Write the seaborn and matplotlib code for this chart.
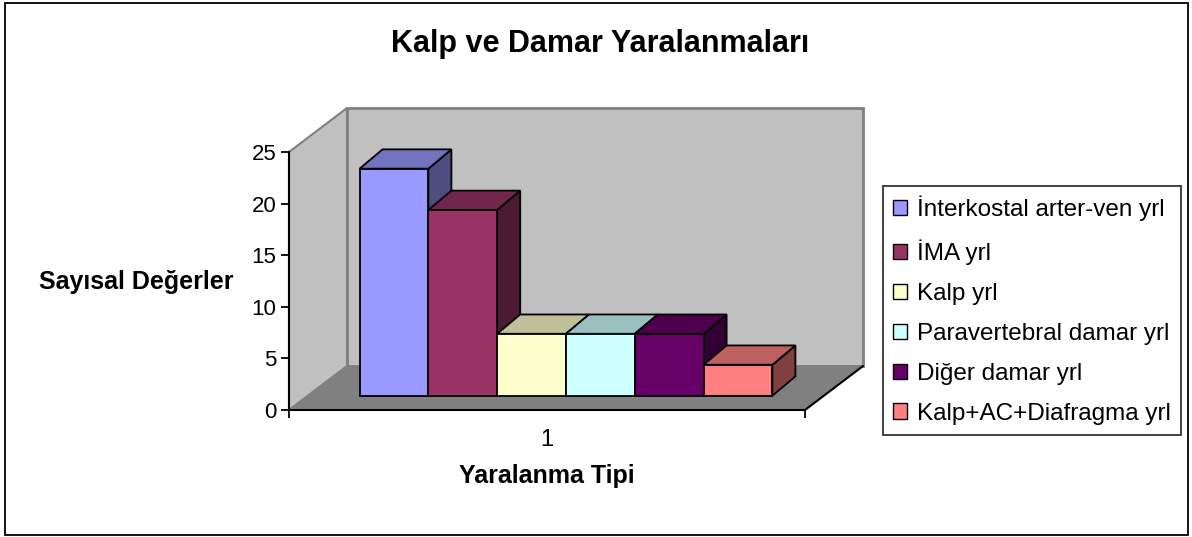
import pandas as pd
import seaborn as sns
import matplotlib.pyplot as plt
from matplotlib.patches import Polygon, Rectangle, Patch
from matplotlib.colors import to_rgb

# data
tipler = ["İnterkostal arter-ven yrl", "İMA yrl", "Kalp yrl",
          "Paravertebral damar yrl", "Diğer damar yrl", "Kalp+AC+Diafragma yrl"]
degerler = [22, 18, 6, 6, 6, 3]
grup = ["1"] * len(tipler)
renkler = ["#9999FF", "#993366", "#FFFFCC", "#CCFFFF", "#660066", "#FF8080"]

df = pd.DataFrame({"grup": grup, "tip": tipler, "deger": degerler})

sns.set_style("white")
plt.rcParams["font.family"] = ["Liberation Sans", "DejaVu Sans"]
plt.rcParams["text.color"] = "black"
plt.rcParams["xtick.color"] = "black"
plt.rcParams["ytick.color"] = "black"

W, H = 1192, 537
fig = plt.figure(figsize=(W / 100, H / 100), dpi=100)

# front plane of the 3d box (pixels): x 289..805, y 410 (0) .. 152 (25)
ax = fig.add_axes([289 / W, (H - 410) / H, (805 - 289) / W, (410 - 152) / H])

sns.barplot(data=df, x="grup", y="deger", hue="tip", palette=renkler, saturation=1,
            width=0.8, edgecolor="black", linewidth=1.3, legend=False, ax=ax)
ax.set_xlim(-0.5, 0.5)
ax.set_ylim(0, 25)

# pixel -> data helpers for the fake depth
pxx = 1.0 / (805 - 289)
pxy = 25.0 / (410 - 152)
wall_dx, wall_dy = 58 * pxx, 44 * pxy
front_dx, front_dy = 19 * pxx, 14.3 * pxy
bar_dx, bar_dy = 23 * pxx, 19.3 * pxy

# walls and floor
sol = [(-0.5, 0), (-0.5, 25), (-0.5 + wall_dx, 25 + wall_dy), (-0.5 + wall_dx, wall_dy)]
arka = [(-0.5 + wall_dx, wall_dy), (-0.5 + wall_dx, 25 + wall_dy),
        (0.5 + wall_dx, 25 + wall_dy), (0.5 + wall_dx, wall_dy)]
zemin = [(-0.5, 0), (0.5, 0), (0.5 + wall_dx, wall_dy), (-0.5 + wall_dx, wall_dy)]
ax.add_patch(Polygon(arka, closed=True, facecolor="#C0C0C0", edgecolor="#808080",
                     linewidth=2, clip_on=False, zorder=0.5))
ax.add_patch(Polygon(sol, closed=True, facecolor="#C0C0C0", edgecolor="#808080",
                     linewidth=1.5, clip_on=False, zorder=0.6))
ax.add_patch(Polygon(zemin, closed=True, facecolor="#808080", edgecolor="#808080",
                     linewidth=1, clip_on=False, zorder=0.7))
ax.plot([0.5, 0.5 + wall_dx], [0, wall_dy], color="black", lw=1.5,
        clip_on=False, zorder=0.8)

# turn the flat bars into boxes
bars = sorted([p for p in ax.patches if isinstance(p, Rectangle) and p.get_height() > 0],
              key=lambda p: p.get_x())
for i, p in enumerate(bars):
    c = to_rgb(renkler[i])
    h = p.get_height()
    x0 = p.get_x() + front_dx
    x1 = x0 + p.get_width()
    y0 = front_dy
    p.set_x(x0)
    p.set_y(y0)
    p.set_clip_on(False)
    z = 2 + 3 * i
    p.set_zorder(z + 2)
    yan = [(x1, y0), (x1, y0 + h), (x1 + bar_dx, y0 + h + bar_dy), (x1 + bar_dx, y0 + bar_dy)]
    ust = [(x0, y0 + h), (x1, y0 + h), (x1 + bar_dx, y0 + h + bar_dy), (x0 + bar_dx, y0 + h + bar_dy)]
    ax.add_patch(Polygon(yan, closed=True, facecolor=tuple(v * 0.5 for v in c),
                         edgecolor="black", linewidth=1.3, clip_on=False, zorder=z))
    ax.add_patch(Polygon(ust, closed=True, facecolor=tuple(v * 0.75 for v in c),
                         edgecolor="black", linewidth=1.3, clip_on=False, zorder=z + 1))

ax.patch.set_visible(False)
for s in ["top", "right"]:
    ax.spines[s].set_visible(False)
for s in ["left", "bottom"]:
    ax.spines[s].set_color("black")
    ax.spines[s].set_linewidth(1.5)
    ax.spines[s].set_zorder(30)

ax.set_yticks([0, 5, 10, 15, 20, 25])
ax.tick_params(axis="y", direction="out", length=6, width=1.3, labelsize=16, pad=3, left=True)
ax.set_xticks([0])
ax.set_xticklabels(["1"])
ax.set_xticks([-0.5, 0.5], minor=True)
ax.tick_params(axis="x", which="major", length=0, labelsize=17, pad=14)
ax.tick_params(axis="x", which="minor", direction="out", length=6, width=1.3, bottom=True)
ax.set_xlabel("")
ax.set_ylabel("")

fig.text(600 / W, 1 - 44 / H, "Kalp ve Damar Yaralanmaları", ha="center", va="center",
         fontsize=22, fontweight="bold")
fig.text(136 / W, 1 - 282 / H, "Sayısal Değerler", ha="center", va="center",
         fontsize=18, fontweight="bold")
fig.text(547 / W, 1 - 476 / H, "Yaralanma Tipi", ha="center", va="center",
         fontsize=18, fontweight="bold")

handles = [Patch(facecolor=c, edgecolor="black", linewidth=1) for c in renkler]
leg = fig.legend(handles, tipler, loc="upper left",
                 bbox_to_anchor=(883 / W, 1 - 186 / H), fontsize=17.5,
                 frameon=True, fancybox=False, handlelength=0.6, handleheight=0.6,
                 handletextpad=0.4, labelspacing=0.74, borderpad=0.4, borderaxespad=0)
leg.get_frame().set_edgecolor("black")
leg.get_frame().set_linewidth(1.3)

# outer chart border
fig.add_artist(Rectangle((5 / W, 2 / H), 1183 / W, 532 / H, transform=fig.transFigure,
                         fill=False, edgecolor="black", linewidth=1.3))

fig.savefig("out.png", dpi=100)
